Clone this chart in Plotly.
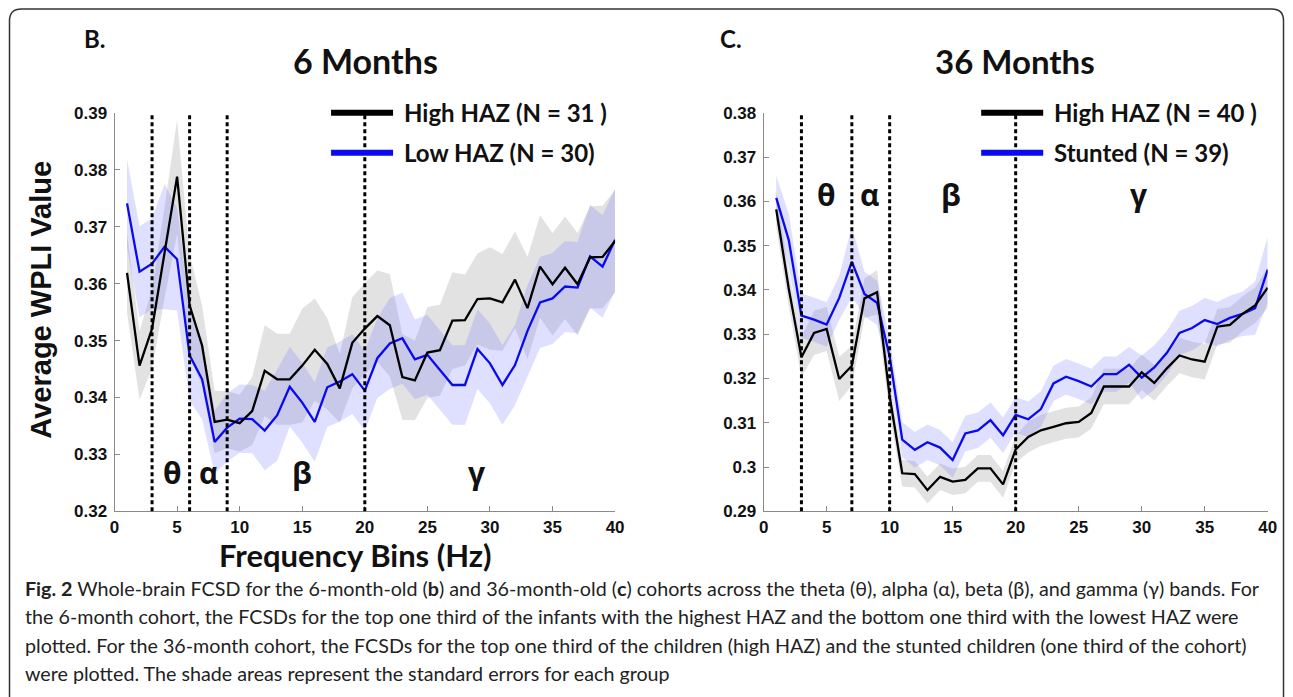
import numpy as np
import plotly.graph_objects as go

W, H = 1293, 697
# empirical correction between layout pixels and the photographed page
SX, AX = 0.989, 4.0
SY, AY = 0.974, 10.0

freq = list(range(1, 41))

# ---- 6 months (panel B) ----
high6 = [0.3619, 0.3456, 0.3521, 0.3655, 0.3788, 0.3562, 0.3491, 0.3357, 0.3361, 0.3355,
         0.3376, 0.3447, 0.3432, 0.3432, 0.3456, 0.3484, 0.3459, 0.3416, 0.3496, 0.3521,
         0.3543, 0.3527, 0.3436, 0.3430, 0.3479, 0.3483, 0.3535, 0.3536, 0.3573, 0.3574,
         0.3567, 0.3607, 0.3557, 0.3630, 0.3599, 0.3628, 0.3599, 0.3646, 0.3647, 0.3675]
high6_se = [0.007, 0.006, 0.007, 0.008, 0.010, 0.009, 0.007, 0.0055, 0.005, 0.005,
            0.006, 0.008, 0.008, 0.008, 0.010, 0.009, 0.008, 0.006, 0.008, 0.008,
            0.008, 0.009, 0.0075, 0.007, 0.008, 0.008, 0.0085, 0.008, 0.008, 0.009,
            0.0085, 0.0085, 0.009, 0.009, 0.009, 0.009, 0.009, 0.009, 0.009, 0.009]
low6 = [0.3741, 0.3621, 0.3635, 0.3665, 0.3643, 0.3474, 0.3432, 0.3322, 0.3347, 0.3363,
        0.3362, 0.3342, 0.3369, 0.3419, 0.3391, 0.3357, 0.3418, 0.3428, 0.3441, 0.3412,
        0.3469, 0.3495, 0.3504, 0.3467, 0.3475, 0.3448, 0.3422, 0.3422, 0.3485, 0.3460,
        0.3422, 0.3457, 0.3517, 0.3567, 0.3574, 0.3595, 0.3593, 0.3648, 0.3630, 0.3677]
low6_se = [0.0077, 0.008, 0.008, 0.011, 0.009, 0.008, 0.007, 0.0055, 0.006, 0.006,
           0.006, 0.007, 0.008, 0.007, 0.007, 0.007, 0.007, 0.007, 0.007, 0.007,
           0.007, 0.008, 0.008, 0.007, 0.007, 0.007, 0.007, 0.007, 0.007, 0.007,
           0.007, 0.007, 0.008, 0.008, 0.008, 0.008, 0.008, 0.009, 0.009, 0.009]

# ---- 36 months (panel C) ----
high36 = [0.3582, 0.3402, 0.3248, 0.3303, 0.3312, 0.3199, 0.3229, 0.3381, 0.3395, 0.3160,
          0.2986, 0.2984, 0.2948, 0.2978, 0.2967, 0.2971, 0.2997, 0.2997, 0.2961, 0.3040,
          0.3068, 0.3083, 0.3091, 0.3099, 0.3102, 0.3122, 0.3182, 0.3182, 0.3182, 0.3214,
          0.3190, 0.3223, 0.3252, 0.3243, 0.3238, 0.3317, 0.3321, 0.3346, 0.3365, 0.3405]
high36_se = [0.004, 0.004, 0.0045, 0.005, 0.005, 0.005, 0.0045, 0.0045, 0.005, 0.004,
             0.003, 0.003, 0.003, 0.003, 0.003, 0.003, 0.003, 0.003, 0.003, 0.003,
             0.0035, 0.0035, 0.0035, 0.0035, 0.0035, 0.0035, 0.004, 0.004, 0.004, 0.004,
             0.004, 0.004, 0.004, 0.004, 0.004, 0.004, 0.004, 0.004, 0.004, 0.0045]
stunt36 = [0.3608, 0.3512, 0.3342, 0.3333, 0.3322, 0.3382, 0.3464, 0.3391, 0.3371, 0.3250,
           0.3062, 0.3039, 0.3056, 0.3044, 0.3016, 0.3076, 0.3083, 0.3106, 0.3072, 0.3118,
           0.3108, 0.3131, 0.3189, 0.3204, 0.3194, 0.3182, 0.3210, 0.3210, 0.3231, 0.3202,
           0.3225, 0.3258, 0.3303, 0.3314, 0.3332, 0.3323, 0.3337, 0.3346, 0.3359, 0.3446]
stunt36_se = [0.005, 0.006, 0.005, 0.005, 0.005, 0.005, 0.008, 0.005, 0.005, 0.004,
              0.004, 0.004, 0.004, 0.004, 0.004, 0.004, 0.004, 0.004, 0.004, 0.004,
              0.004, 0.004, 0.004, 0.004, 0.004, 0.004, 0.004, 0.004, 0.004, 0.005,
              0.005, 0.005, 0.005, 0.005, 0.005, 0.005, 0.005, 0.005, 0.006, 0.0075]

bands6 = [3, 6, 9, 20]
bands36 = [3, 7, 10, 20]
greek = ["θ", "α", "β", "γ"]
greek_x6 = [4.6, 7.5, 15, 29]
greek_x36 = [5, 8.5, 15, 30]

xticks = [0, 5, 10, 15, 20, 25, 30, 35, 40]


def px(x):
    return min((x - AX) / SX, W - 0.5) / W


def py(y):
    return 1 - ((y - AY) / SY) / H


BLACK = "#000000"
BLUE = "#0a0af0"
GREY_FILL = "rgba(150,150,150,0.28)"
BLUE_FILL = "rgba(110,110,255,0.22)"

fig = go.Figure()


def add_band(mean, se, color, xa, ya):
    m = np.array(mean)
    s = np.array(se)
    fig.add_trace(go.Scatter(
        x=freq + freq[::-1], y=list(m + s) + list((m - s)[::-1]),
        fill="toself", fillcolor=color, line=dict(width=0), mode="lines",
        hoverinfo="skip", showlegend=False, xaxis=xa, yaxis=ya))


def add_line(mean, color, xa, ya, name):
    fig.add_trace(go.Scatter(x=freq, y=mean, mode="lines", name=name,
                             line=dict(color=color, width=2.3),
                             showlegend=False, xaxis=xa, yaxis=ya))


add_band(high6, high6_se, GREY_FILL, "x", "y")
add_band(low6, low6_se, BLUE_FILL, "x", "y")
add_line(low6, BLUE, "x", "y", "Low HAZ (N = 30)")
add_line(high6, BLACK, "x", "y", "High HAZ (N = 31 )")

add_band(high36, high36_se, GREY_FILL, "x2", "y2")
add_band(stunt36, stunt36_se, BLUE_FILL, "x2", "y2")
add_line(stunt36, BLUE, "x2", "y2", "Stunted (N = 39)")
add_line(high36, BLACK, "x2", "y2", "High HAZ (N = 40 )")

tickfont = dict(family="Liberation Sans, Arial", size=17, color="#111", weight="bold")
axcommon = dict(showline=True, linecolor="#8a8a8a", linewidth=1, ticks="inside",
                ticklen=5, tickcolor="#8a8a8a", showgrid=False, zeroline=False,
                tickfont=tickfont, mirror=False)

ydom = [py(513), py(114)]
fig.update_layout(
    width=W, height=H, margin=dict(l=0, r=0, t=0, b=0),
    paper_bgcolor="white", plot_bgcolor="white",
    xaxis=dict(domain=[px(113.5), px(614)], range=[0, 40], tickvals=xticks,
               anchor="y", **axcommon),
    yaxis=dict(domain=ydom, range=[0.32, 0.39], dtick=0.01, anchor="x",
               ticklabelstandoff=3, **axcommon),
    xaxis2=dict(domain=[px(762.5), px(1266.5)], range=[0, 40], tickvals=xticks,
                anchor="y2", **axcommon),
    yaxis2=dict(domain=ydom, range=[0.29, 0.38], dtick=0.01, anchor="x2",
                ticklabelstandoff=3, **axcommon),
)

shapes = []
for b in bands6:
    shapes.append(dict(type="line", xref="x", yref="y domain", x0=b, x1=b, y0=0, y1=1,
                       line=dict(color="black", width=3, dash="4px,3px")))
for b in bands36:
    shapes.append(dict(type="line", xref="x2", yref="y2 domain", x0=b, x1=b, y0=0, y1=1,
                       line=dict(color="black", width=3, dash="4px,3px")))

# legend samples
for (x0, x1, y, c) in [(330, 392, 114, BLACK), (330, 392, 154, BLUE),
                       (980, 1042, 114, BLACK), (980, 1042, 154, BLUE)]:
    shapes.append(dict(type="line", xref="paper", yref="paper", x0=px(x0), x1=px(x1),
                       y0=py(y), y1=py(y), line=dict(color=c, width=6)))

# outer rounded frame
l, t, r, bt = px(8.5), py(10), px(1284.5), py(740)
rx, ry = 12 / W, 12 / H
shapes.append(dict(type="path", xref="paper", yref="paper",
                   path=f"M {l},{bt} L {l},{t - ry} Q {l},{t} {l + rx},{t} "
                        f"L {r - rx},{t} Q {r},{t} {r},{t - ry} L {r},{bt}",
                   line=dict(color="#333", width=1.5)))
fig.update_layout(shapes=shapes)

CAL = "Lato, Open Sans, sans-serif"
ann = []


def text(x, y, s, size, family=CAL, xanchor="center", bold=True, angle=0, color="#111"):
    ann.append(dict(x=px(x), y=py(y), xref="paper", yref="paper", text=(f"<b>{s}</b>" if bold else s),
                    showarrow=False, xanchor=xanchor, yanchor="middle", textangle=angle,
                    font=dict(family=family, size=size, color=color)))


text(81, 40, "B.", 24, xanchor="left")
text(717, 40, "C.", 24, xanchor="left")
text(364, 62, "6 Months", 34)
text(1014, 62, "36 Months", 33)

text(401, 114, "High HAZ (N = 31 )", 24, xanchor="left")
text(401, 154, "Low HAZ (N = 30)", 24, xanchor="left")
text(1051, 114, "High HAZ (N = 40 )", 24, xanchor="left")
text(1051, 154, "Stunted (N = 39)", 24, xanchor="left")

for g, gx in zip(greek, greek_x6):
    text(113.5 + gx * 12.5, 474, g, 30, family="Open Sans, sans-serif")
for g, gx in zip(greek, greek_x36):
    text(762.5 + gx * 12.5, 196, g, 30, family="Open Sans, sans-serif")

text(40, 301, "Average WPLI Value", 29, family="Liberation Sans, Arial", angle=-90)
text(354, 557, "Frequency Bins (Hz)", 31)

cap = [
    "<b>Fig. 2</b> Whole-brain FCSD for the 6-month-old (<b>b</b>) and 36-month-old (<b>c</b>) cohorts across the theta (θ), alpha (α), beta (β), and gamma (γ) bands. For",
    "the 6-month cohort, the FCSDs for the top one third of the infants with the highest HAZ and the bottom one third with the lowest HAZ were",
    "plotted. For the 36-month cohort, the FCSDs for the top one third of the children (high HAZ) and the stunted children (one third of the cohort)",
    "were plotted. The shade areas represent the standard errors for each group",
]
for i, line in enumerate(cap):
    text(22, 590 + i * 28.5, line, 19.7, xanchor="left", bold=False, color="#222")

fig.update_layout(annotations=ann)
fig.write_html("out.html")
